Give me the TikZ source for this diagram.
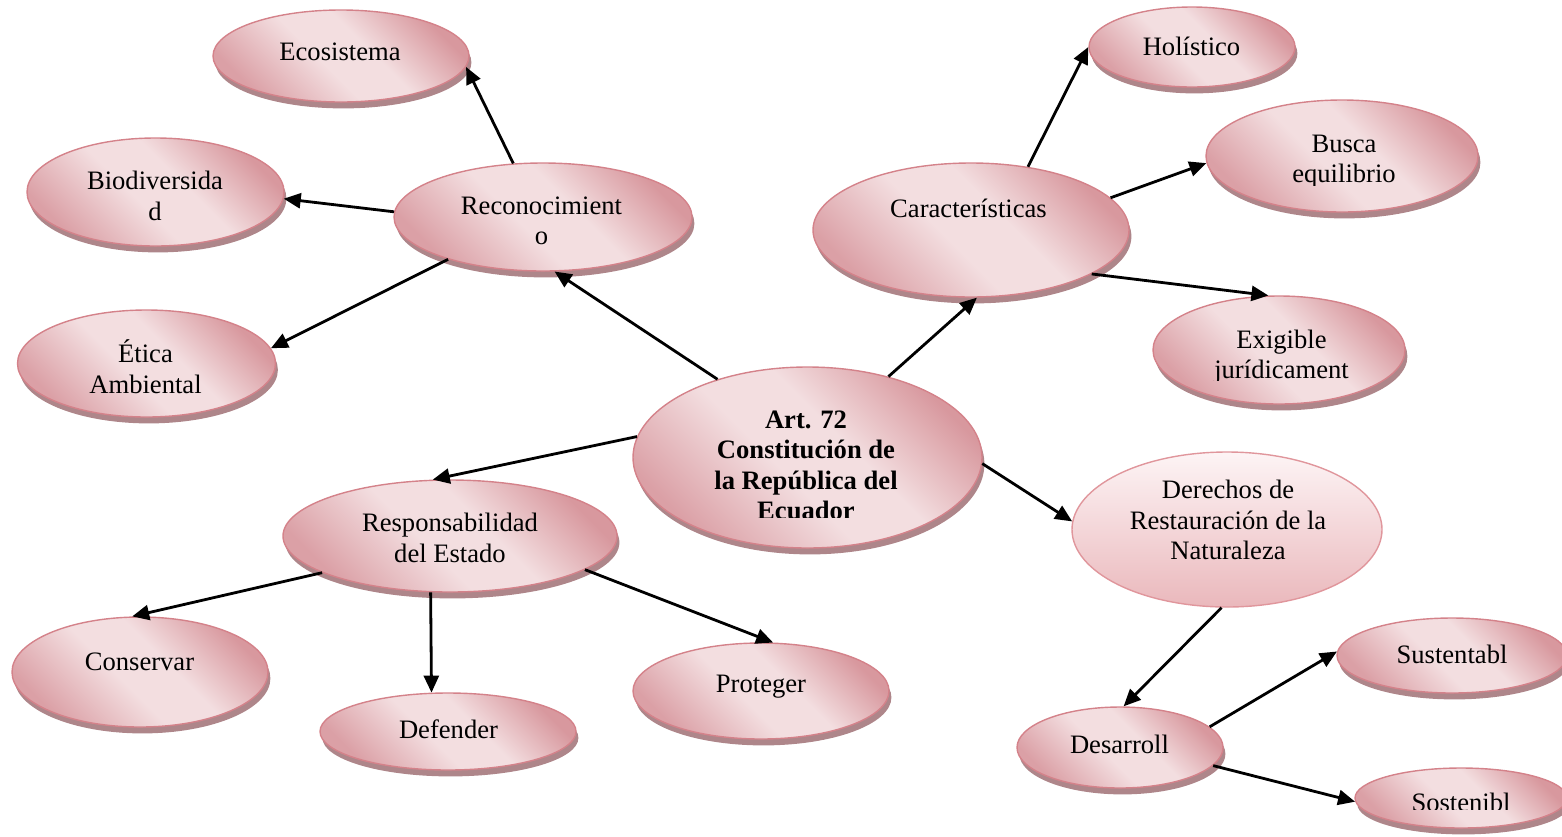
\documentclass[tikz,border=0pt]{standalone}
\usepackage{fontspec}
\setmainfont{Liberation Serif}
\usetikzlibrary{shapes.geometric,shadows,arrows.meta}
\definecolor{pdark}{RGB}{216,152,158}
\definecolor{pmid}{RGB}{219,160,166}
\definecolor{plight}{RGB}{243,222,224}
\definecolor{pborder}{RGB}{212,130,138}
\definecolor{pshadow}{RGB}{174,134,138}
\definecolor{dtop}{RGB}{253,244,245}
\definecolor{dbot}{RGB}{234,184,188}
\definecolor{dborder}{RGB}{224,150,156}
\pgfdeclareverticalshading{pinkgrad}{100bp}{color(0bp)=(pmid); color(25bp)=(pmid); color(45bp)=(plight); color(57bp)=(plight); color(75bp)=(pdark); color(100bp)=(pdark)}
\newcommand{\lnstrut}{\rule[-0.3\baselineskip]{0pt}{\baselineskip}}
\begin{document}
\begin{tikzpicture}[x=0.5pt,y=-0.5pt,
  bub/.style={ellipse, draw=pborder, line width=0.7pt, shading=pinkgrad, shading angle=-45, inner sep=0pt,
    drop shadow={shadow xshift=1.2pt, shadow yshift=-3.2pt, fill=pshadow, opacity=1}},
  dbub/.style={ellipse, draw=dborder, line width=0.7pt, top color=dtop, bottom color=dbot, inner sep=0pt},
  txt/.style={align=center, inner sep=0pt, font=\fontsize{13.3pt}{15.3pt}\selectfont},
  btxt/.style={align=center, inner sep=0pt, font=\fontsize{13.3pt}{15.3pt}\selectfont\bfseries},
  arr/.style={line width=1.4pt, -{Triangle[length=8.5pt,width=7.5pt]}}]
\useasboundingbox (0,0) rectangle (1562,836);

% ellipses
\node[bub, minimum width=128pt, minimum height=46pt] (eco) at (341,56) {};
\node[bub, minimum width=128.5pt, minimum height=54pt] (bio) at (155.5,192) {};
\node[bub, minimum width=129pt, minimum height=53.5pt] (etica) at (146.5,363.5) {};
\node[bub, minimum width=149pt, minimum height=54pt] (reco) at (543,217) {};
\node[bub, minimum width=174.5pt, minimum height=90.5pt] (central) at (807.5,457.5) {};
\node[bub, minimum width=158pt, minimum height=67pt] (carac) at (971,230) {};
\node[bub, minimum width=103pt, minimum height=40pt] (holi) at (1192,47) {};
\node[bub, minimum width=136pt, minimum height=56pt] (busca) at (1342,156) {};
\node[bub, minimum width=126pt, minimum height=54pt] (exig) at (1279,350) {};
\node[dbub, minimum width=155pt, minimum height=77.5pt] (derechos) at (1227,529.5) {};
\node[bub, minimum width=167pt, minimum height=56pt] (resp) at (450,536) {};
\node[bub, minimum width=128pt, minimum height=55pt] (cons) at (140,672) {};
\node[bub, minimum width=128pt, minimum height=38.5pt] (def) at (448,731.5) {};
\node[bub, minimum width=128pt, minimum height=48pt] (prot) at (761,691) {};
\node[bub, minimum width=103pt, minimum height=40.5pt] (des) at (1120,747.5) {};
\node[bub, minimum width=115pt, minimum height=37.5pt] (sust) at (1452,655.5) {};
\node[bub, minimum width=106pt, minimum height=30pt] (sost) at (1461,798) {};

% texts
\node[txt] (eco-t) at (340,53.9) {\lnstrut Ecosistema};
\node[txt] (bio-t) at (155,198.9) {\lnstrut Biodiversida\\\lnstrut d};
\node[txt] (etica-t) at (145.5,370.9) {\lnstrut Ética\\\lnstrut Ambiental};
\node[txt] (reco-t) at (541.5,223.4) {\lnstrut Reconocimient\\\lnstrut o};
\begin{scope}
\clip (630,380) rectangle (990,517);
\node[btxt] (central-t) at (806,467.8) {\lnstrut Art. 72\\\lnstrut Constitución de\\\lnstrut la República del\\\lnstrut Ecuador};
\end{scope}
\node[txt] (carac-t) at (968.5,210.9) {\lnstrut Características};
\node[txt] (holi-t) at (1191.5,48.9) {\lnstrut Holístico};
\begin{scope}
\clip (1200,110) rectangle (1490,185);
\node[txt] (busca-t) at (1344,161.2) {\lnstrut Busca\\\lnstrut equilibrio};
\end{scope}
\begin{scope}
\clip (1150,300) rectangle (1420,380);
\node[txt] (exig-t) at (1281.5,357.2) {\lnstrut Exigible\\\lnstrut jurídicament};
\end{scope}
\node[txt] (derechos-t) at (1228,522.9) {\lnstrut Derechos de\\\lnstrut Restauración de la\\\lnstrut Naturaleza};
\node[txt] (resp-t) at (450,540.9) {\lnstrut Responsabilidad\\\lnstrut del Estado};
\node[txt] (cons-t) at (139.5,663.9) {\lnstrut Conservar};
\node[txt] (def-t) at (448.5,731.9) {\lnstrut Defender};
\node[txt] (prot-t) at (761,685.9) {\lnstrut Proteger};
\node[txt] (des-t) at (1119.5,746.9) {\lnstrut Desarroll};
\node[txt] (sust-t) at (1452,656.9) {\lnstrut Sustentabl};
\begin{scope}
\clip (1350,770) rectangle (1562,809);
\node[txt] (sost-t) at (1461,804.9) {\lnstrut Sostenibl};
\end{scope}

% connectors
\draw[arr] (reco.119) -- (eco.-5);
\draw[arr] (reco.178) -- (bio.-3);
\draw[arr] (reco.204) -- (etica.7);
\draw[arr] (central.139) -- (reco.-78);
\draw[arr] (central.45) -- (carac.-85);
\draw[arr] (carac.48) -- (holi.180);
\draw[arr] (carac.13) -- (busca.183);
\draw[arr] (carac.-20) -- (exig.101);
\draw[arr] (central.-2.5) -- (derechos.177.6);
\draw[arr] (central.173.6) -- (resp.107);
\draw[arr] (resp.196.6) -- (cons.98.7);
\draw[arr] (resp.251.3) -- (def.113.8);
\draw[arr] (resp.-14.5) -- (prot.76.8);
\draw[arr] (derechos.266.3) -- (des.85.9);
\draw[arr] (des.13.3) -- (sust.178.8);
\draw[arr] (des.-11.3) -- (sost.182);
\end{tikzpicture}
\end{document}
